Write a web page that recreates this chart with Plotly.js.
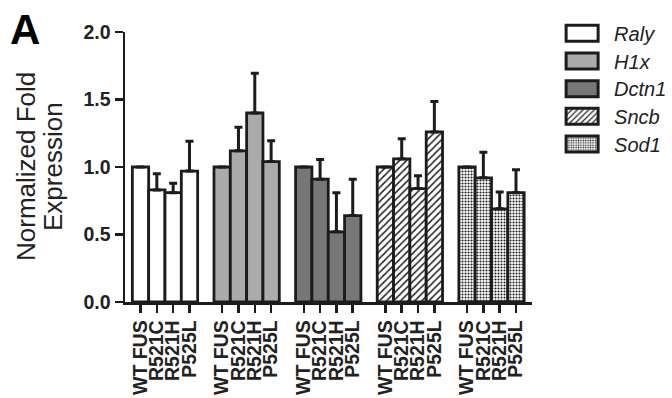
<!DOCTYPE html>
<html>
<head>
<meta charset="utf-8">
<script src="https://cdn.plot.ly/plotly-3.0.1.min.js"></script>
<style>
  html, body { margin: 0; padding: 0; background: #fff; }
  #chart { width: 672px; height: 398px; }
</style>
</head>
<body>
<div id="chart"></div>
<script>
// ---- data ----
const genes = ['Raly', 'H1x', 'Dctn1', 'Sncb', 'Sod1'];
const mutants = ['WT FUS', 'R521C', 'R521H', 'P525L'];

const ralyMean  = [1.00, 0.83, 0.81, 0.97];
const ralyErr   = [null, 0.12, 0.07, 0.22];
const h1xMean   = [1.00, 1.12, 1.40, 1.04];
const h1xErr    = [null, 0.175, 0.295, 0.155];
const dctn1Mean = [1.00, 0.91, 0.52, 0.64];
const dctn1Err  = [null, 0.145, 0.29, 0.27];
const sncbMean  = [1.00, 1.06, 0.84, 1.26];
const sncbErr   = [null, 0.15, 0.095, 0.225];
const sod1Mean  = [1.00, 0.92, 0.69, 0.81];
const sod1Err   = [null, 0.19, 0.125, 0.17];

const yTicks = [0, 0.5, 1.0, 1.5, 2.0];

// ---- styles ----
const means = [ralyMean, h1xMean, dctn1Mean, sncbMean, sod1Mean];
const errs  = [ralyErr, h1xErr, dctn1Err, sncbErr, sod1Err];
const fills = ['#ffffff', '#ababab', '#777777', '#ffffff', '#ffffff'];
const patterns = [
  {shape: ''}, {shape: ''}, {shape: ''},
  {shape: '/', fgcolor: '#222', bgcolor: '#fff', size: 5, solidity: 0.3},
  {shape: '.', fgcolor: '#222', bgcolor: '#fff', size: 3, solidity: 0.4}
];
const slot = mutants.length + 1;
const edge = '#1c1c1c';
const FONT = 'Liberation Sans, Arial, Helvetica, sans-serif';

const traces = genes.map((g, gi) => ({
  type: 'bar',
  name: g,
  x: mutants.map((m, i) => gi * slot + i),
  y: means[gi],
  width: 1,
  marker: {
    color: fills[gi],
    line: {color: edge, width: 2.8},
    pattern: patterns[gi]
  },
  error_y: {
    type: 'data', symmetric: false,
    array: errs[gi],
    arrayminus: errs[gi].map(() => 0),
    color: edge, thickness: 3, width: 4
  },
  hoverinfo: 'skip'
}));

const tickvals = [], ticktext = [];
genes.forEach((g, gi) => mutants.forEach((m, i) => { tickvals.push(gi * slot + i); ticktext.push(m); }));

const layout = {
  width: 672, height: 398,
  margin: {l: 125, r: 134, t: 27, b: 96, pad: 0},
  paper_bgcolor: '#fff', plot_bgcolor: '#fff',
  bargap: 0, barmode: 'overlay',
  showlegend: true,
  legend: {
    x: 1.074, y: 1.075, xanchor: 'left', yanchor: 'top',
    font: {family: FONT, size: 20, style: 'italic', color: '#222'},
    itemwidth: 30, tracegroupgap: 0,
    bgcolor: 'rgba(0,0,0,0)'
  },
  xaxis: {
    range: [-0.95, 23.98],
    tickvals: tickvals, ticktext: ticktext,
    tickangle: -90,
    ticks: 'outside', ticklen: 8, tickwidth: 2.5, tickcolor: edge,
    showline: true, linecolor: edge, linewidth: 2.5,
    showgrid: false, zeroline: false,
    tickfont: {family: FONT, size: 19.5, weight: 'bold', color: '#222'},
    fixedrange: true
  },
  yaxis: {
    range: [0, 2.0],
    tickvals: yTicks, tickformat: '.1f',
    ticks: 'outside', ticklen: 8, tickwidth: 2.5, tickcolor: edge,
    showline: true, linecolor: edge, linewidth: 2.5,
    showgrid: false, zeroline: false,
    tickfont: {family: FONT, size: 19.5, weight: 'bold', color: '#222'},
    fixedrange: true
  },
  annotations: [
    {text: 'Normalized Fold', xref: 'paper', yref: 'paper', x: 0, y: 0.5,
     xshift: -99, textangle: -90, showarrow: false, xanchor: 'center', yanchor: 'middle',
     font: {family: FONT, size: 26, color: '#222'}},
    {text: 'Expression', xref: 'paper', yref: 'paper', x: 0, y: 0.5,
     xshift: -72, textangle: -90, showarrow: false, xanchor: 'center', yanchor: 'middle',
     font: {family: FONT, size: 26, color: '#222'}},
    {text: '<b>A</b>', xref: 'paper', yref: 'paper', x: 0, y: 1,
     xshift: -100, yshift: 27, showarrow: false, xanchor: 'center', yanchor: 'top',
     borderpad: 0,
     font: {family: FONT, size: 42, color: '#000'}}
  ]
};

Plotly.newPlot('chart', traces, layout, {displayModeBar: false, staticPlot: true}).then(gd => {
  // widen the legend swatches, push the labels right and space items as in the reference
  gd.querySelectorAll('.legend [clip-path]').forEach(el => el.removeAttribute('clip-path'));
  gd.querySelectorAll('.legend .legendpoints path').forEach(p => {
    p.setAttribute('d', 'M16,8H-16V-8H16Z');
    p.style.strokeWidth = '3px';
  });
  gd.querySelectorAll('.legend .legendtext').forEach(t => {
    const x = parseFloat(t.getAttribute('x')) || 0;
    t.setAttribute('x', x + 12);
  });
  const items = gd.querySelectorAll('.legend .traces');
  let x0 = null, y0 = null;
  items.forEach((g, i) => {
    const m = /translate\(\s*([-\d.]+)[ ,]+([-\d.]+)\s*\)/.exec(g.getAttribute('transform') || '');
    if (!m) return;
    if (x0 === null) { x0 = parseFloat(m[1]); y0 = parseFloat(m[2]) + 2; }
    g.setAttribute('transform', 'translate(' + x0 + ',' + (y0 + i * 27.7) + ')');
  });
});
</script>
</body>
</html>
